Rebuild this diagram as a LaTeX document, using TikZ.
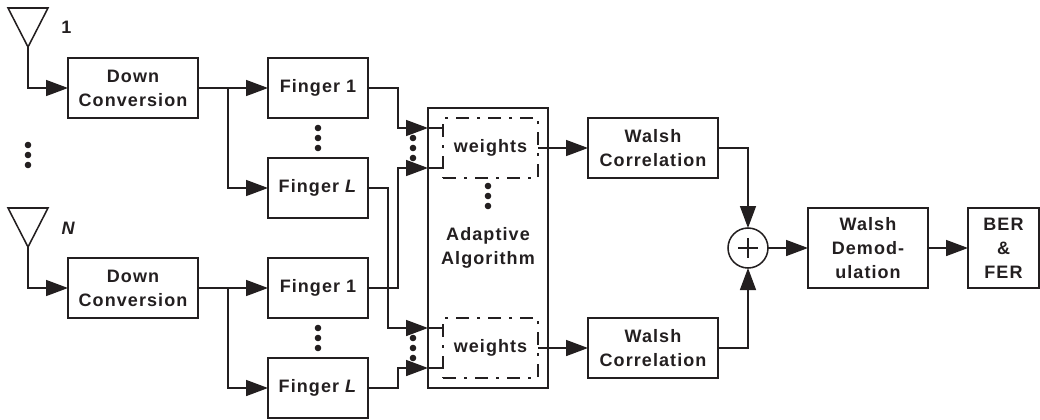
\documentclass[tikz,border=0pt]{standalone}
\usepackage{fontspec}
\setmainfont[LetterSpace=6,Scale=1]{Liberation Sans}
\usetikzlibrary{arrows.meta}
\definecolor{ink}{HTML}{231F20}
\tikzset{
  line/.style={draw=ink,line width=1.15pt,line join=miter},
  arr/.style={line,-{Triangle[length=16.5pt,width=12pt]}},
  lab/.style={font=\fontsize{13.5}{18}\selectfont\bfseries,text=ink,align=center,inner sep=0pt},
  blockbox/.style={line,lab,rectangle,inner sep=0pt,outer sep=0pt,minimum width=#1,minimum height=45pt},
  blockbox/.default=97.5pt,
  finger/.style={blockbox=75pt},
  tall/.style={line,lab,rectangle,inner sep=0pt,outer sep=0pt,minimum height=60pt},
  wbox/.style={lab,rectangle,draw=ink,line width=1.15pt,inner sep=0pt,outer sep=0pt,minimum width=71.25pt,minimum height=45pt,dash pattern=on 9.75pt off 6pt on 2.25pt off 6pt},
  dot/.style={fill=ink}
}
\newcommand{\threedots}[2]{%
  \fill[dot] (#1,#2) circle (3.3);
  \fill[dot] (#1,#2+10) circle (3.3);
  \fill[dot] (#1,#2+20) circle (3.3);
}
\begin{document}
\begin{tikzpicture}[x=0.75pt,y=-0.75pt]
\useasboundingbox (0,0) rectangle (1040,419);
% antennas
\draw[line] (8,8) -- (48,8) -- (28,47) -- cycle;
\coordinate (ant1) at (28,47);
\draw[line] (8,208) -- (48,208) -- (28,247) -- cycle;
\coordinate (ant2) at (28,247);
\node[lab] (lab1) at (66.5,27) {1};
\node[lab] (labN) at (68,228) {\itshape N};
% down conversion
\node[blockbox] (dc1) at (133,88) {Down\\Conversion};
\node[blockbox] (dc2) at (133,288) {Down\\Conversion};
% fingers
\node[finger] (f11) at (318,88) {Finger 1};
\node[finger] (f1l) at (318,188) {Finger \textit{L}};
\node[finger] (f21) at (318,288) {Finger 1};
\node[finger] (f2l) at (318,388) {Finger \textit{L}};
% adaptive
\node[line,rectangle,inner sep=0pt,outer sep=0pt,minimum width=90pt,minimum height=210pt] (ada) at (488,248) {};
\node[wbox] (w1) at (490.5,148) {weights};
\node[wbox] (w2) at (490.5,348) {weights};
\node[lab] (alg) at (488,248) {Adaptive\\Algorithm};
% walsh
\node[blockbox] (wc1) at (653,148) {Walsh\\Correlation};
\node[blockbox] (wc2) at (653,348) {Walsh\\Correlation};
\node[circle,line,inner sep=0pt,outer sep=0pt,minimum size=30pt] (sum) at (748,248) {};
\draw[draw=ink,line width=0.9pt] (sum.center) +(-10,0) -- +(10,0) +(0,-10) -- +(0,10);
\node[tall,minimum width=90pt] (wd) at (868,248) {Walsh\\Demod-\\ulation};
\node[tall,minimum width=53.25pt] (ber) at (1003.5,248) {BER\\\&\\FER};
% antenna feeds
\draw[arr] (ant1) |- (dc1.west);
\draw[arr] (ant2) |- (dc2.west);
% splits
\draw[arr] (dc1.east) -- (f11.west);
\draw[arr] (dc1.east) -- (228,88) |- (f1l.west);
\draw[arr] (dc2.east) -- (f21.west);
\draw[arr] (dc2.east) -- (228,288) |- (f2l.west);
% inputs to weights
\coordinate (t1) at (428,128);
\coordinate (t2) at (428,168);
\coordinate (t3) at (428,328);
\coordinate (t4) at (428,368);
\draw[arr] (f11.east) -- (398,88) |- (t1);
\draw[arr] (f21.east) -- (398,288) |- (t2);
\draw[arr] (f1l.east) -- (388,188) |- (t3);
\draw[arr] (f2l.east) -- (398,388) |- (t4);
\draw[line] (t1) -- (w1.west |- t1);
\draw[line] (t2) -- (w1.west |- t2);
\draw[line] (t3) -- (w2.west |- t3);
\draw[line] (t4) -- (w2.west |- t4);
% outputs
\draw[arr] (w1.east) -- (wc1.west);
\draw[arr] (w2.east) -- (wc2.west);
\draw[arr] (wc1.east) -| (sum.north);
\draw[arr] (wc2.east) -| (sum.south);
\draw[arr] (sum.east) -- (wd.west);
\draw[arr] (wd.east) -- (ber.west);
% dots
\threedots{28}{145}
\threedots{318}{128}
\threedots{318}{328}
\threedots{413}{138}
\threedots{413}{338}
\threedots{488}{186}
\end{tikzpicture}
\end{document}
